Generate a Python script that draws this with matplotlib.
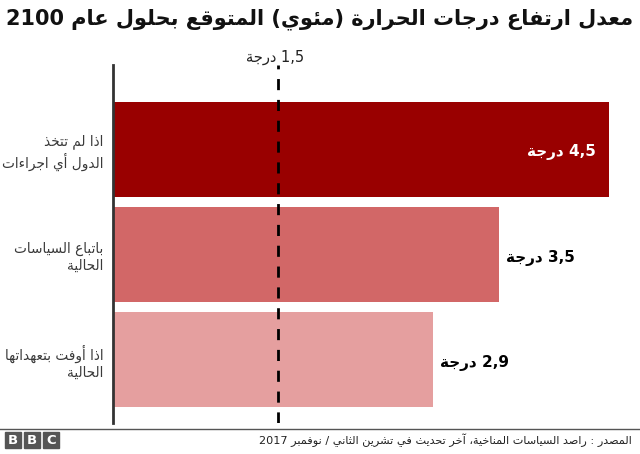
import re
import matplotlib
matplotlib.use("Agg")
import matplotlib.pyplot as plt
from matplotlib.patches import Rectangle

# data
labels = ["اذا لم تتخذ\nالدول أي اجراءات",
          "باتباع السياسات\nالحالية",
          "اذا أوفت بتعهداتها\nالحالية"]
values = [4.5, 3.5, 2.9]
value_text = ["4,5 درجة", "3,5 درجة", "2,9 درجة"]
colors = ["#990000", "#d26767", "#e59f9f"]
target = 1.5
target_text = "1,5 درجة"
title = "معدل ارتفاع درجات الحرارة (مئوي) المتوقع بحلول عام 2100"
source = "المصدر : راصد السياسات المناخية، آخر تحديث في تشرين الثاني / نوفمبر 2017"

# --- tiny arabic shaper (matplotlib has no bidi / shaping) ---
# letter -> (isolated presentation form, joins on both sides?)
FORMS = {
    "ا": (0xFE8D, 0), "آ": (0xFE81, 0), "أ": (0xFE83, 0), "ؤ": (0xFE85, 0),
    "إ": (0xFE87, 0), "ئ": (0xFE89, 1), "ب": (0xFE8F, 1), "ة": (0xFE93, 0),
    "ت": (0xFE95, 1), "ث": (0xFE99, 1), "ج": (0xFE9D, 1), "ح": (0xFEA1, 1),
    "خ": (0xFEA5, 1), "د": (0xFEA9, 0), "ذ": (0xFEAB, 0), "ر": (0xFEAD, 0),
    "ز": (0xFEAF, 0), "س": (0xFEB1, 1), "ش": (0xFEB5, 1), "ص": (0xFEB9, 1),
    "ض": (0xFEBD, 1), "ط": (0xFEC1, 1), "ظ": (0xFEC5, 1), "ع": (0xFEC9, 1),
    "غ": (0xFECD, 1), "ف": (0xFED1, 1), "ق": (0xFED5, 1), "ك": (0xFED9, 1),
    "ل": (0xFEDD, 1), "م": (0xFEE1, 1), "ن": (0xFEE5, 1), "ه": (0xFEE9, 1),
    "و": (0xFEED, 0), "ى": (0xFEEF, 0), "ي": (0xFEF1, 1),
}
LAM_ALEF = {"ا": 0xFEFB, "آ": 0xFEF5, "أ": 0xFEF7, "إ": 0xFEF9}


def shape(line):
    out = []
    chars = list(line)
    i = 0
    while i < len(chars):
        c = chars[i]
        if c not in FORMS:
            out.append(c)
            i += 1
            continue
        prev = chars[i - 1] if i > 0 else ""
        join_prev = prev in FORMS and FORMS[prev][1] == 1
        if c == "ل" and i + 1 < len(chars) and chars[i + 1] in LAM_ALEF:
            out.append(chr(LAM_ALEF[chars[i + 1]] + (1 if join_prev else 0)))
            i += 2
            continue
        nxt = chars[i + 1] if i + 1 < len(chars) else ""
        base, dual = FORMS[c]
        join_next = dual == 1 and nxt in FORMS
        if join_prev and join_next:
            code = base + 3
        elif join_prev:
            code = base + 1
        elif join_next:
            code = base + 2
        else:
            code = base
        out.append(chr(code))
        i += 1
    return "".join(out)


def rtl(text):
    lines = []
    for line in text.split("\n"):
        s = shape(line)
        tokens = re.findall(r"[0-9][0-9,.]*|[^0-9]+", s)
        vis = []
        for t in reversed(tokens):
            if t[0].isdigit():
                vis.append(t)
            else:
                t = t[::-1].translate(str.maketrans("()", ")("))
                vis.append(t)
        lines.append("".join(vis))
    return "\n".join(lines)


plt.rcParams["font.family"] = ["DejaVu Sans"]

fig = plt.figure(figsize=(6.4, 4.54), dpi=100)
ax = fig.add_axes([113 / 640, 1 - 423 / 454, 527 / 640, (423 - 65) / 454])

y = list(range(len(values)))
ax.barh(y, values, height=0.9, color=colors, zorder=1)
ax.set_xlim(0, 527 / 110.2)
ax.set_ylim(2.6, -0.8)

ax.axvline(target, color="black", lw=2, dashes=(4, 3.5), zorder=3)

for i, (v, t) in enumerate(zip(values, value_text)):
    if i == 0:
        ax.text(v - 0.12, i + 0.03, rtl(t), ha="right", va="center", color="white",
                fontsize=11, fontweight="bold")
    else:
        ax.text(v + 0.07, i + 0.03, rtl(t), ha="left", va="center", color="black",
                fontsize=11, fontweight="bold")

ax.set_yticks(y)
ax.set_yticklabels([rtl(l) for l in labels], fontsize=9.8, color="#3a3a3a",
                   ha="right", linespacing=1.25)
ax.tick_params(axis="y", length=0, pad=7)
ax.set_xticks([])
for s in ["top", "right", "bottom"]:
    ax.spines[s].set_visible(False)
ax.spines["left"].set_linewidth(2)
ax.spines["left"].set_color("#333333")

fig.text(275 / 640, 1 - 57 / 454, rtl(target_text), ha="center", va="center",
         fontsize=10.5, color="#222222")
fig.text(633 / 640, 1 - 19 / 454, rtl(title), ha="right", va="center",
         fontsize=15, fontweight="bold", color="#111111")

# footer
fig.add_artist(plt.Line2D([0, 1], [1 - 429 / 454] * 2, color="#555555", lw=1))
fig.text(632 / 640, 1 - 440 / 454, rtl(source), ha="right", va="center",
         fontsize=8.1, color="#222222")
for k, ch in enumerate("BBC"):
    x0 = (5 + k * 19) / 640
    fig.add_artist(Rectangle((x0, 1 - 448 / 454), 16 / 640, 16 / 454,
                             transform=fig.transFigure, color="#555555"))
    fig.text(x0 + 8 / 640, 1 - 440 / 454, ch, ha="center", va="center",
             color="white", fontsize=9.5, fontweight="bold")

fig.savefig("out.png", dpi=100)
